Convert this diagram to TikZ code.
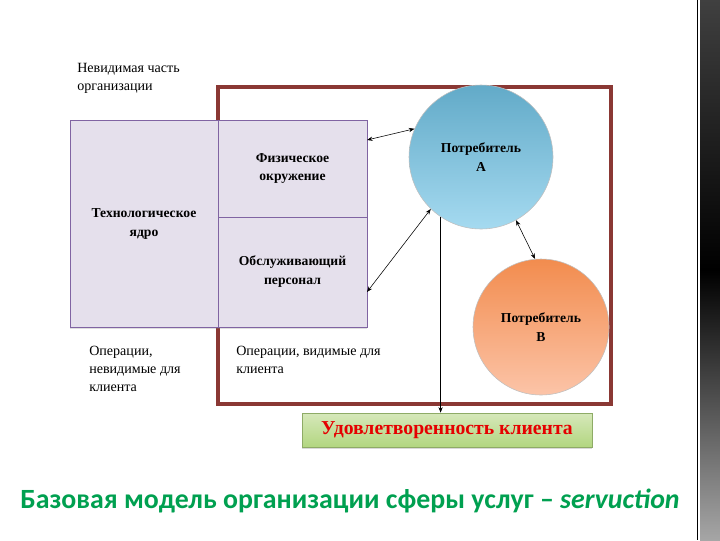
\documentclass[tikz,border=0pt]{standalone}
\usepackage{fontspec}
\setmainfont{Liberation Serif}
\newfontfamily\titlefont{Carlito}
\usepackage{tikz}
\usetikzlibrary{arrows.meta, positioning, calc, shadows}
\usepackage{xcolor}
\definecolor{framered}{RGB}{138,56,52}
\definecolor{boxlilac}{RGB}{229,224,236}
\definecolor{boxedge}{RGB}{128,100,162}
\definecolor{custblue}{RGB}{98,170,200}
\definecolor{custbluelight}{RGB}{165,218,240}
\definecolor{custorange}{RGB}{242,140,78}
\definecolor{custorangelight}{RGB}{252,196,168}
\definecolor{satgreen}{RGB}{178,214,128}
\definecolor{satgreenlight}{RGB}{214,232,186}
\definecolor{titlegreen}{RGB}{0,160,80}
\tikzstyle{part} = [rectangle, draw=boxedge, fill=boxlilac, inner sep=0pt, align=center, font=\fontsize{9.7}{13.5}\selectfont\bfseries]
\tikzstyle{customer} = [circle, draw=black!25, inner sep=0pt, align=center, font=\fontsize{9.7}{13.5}\selectfont\bfseries]
\tikzstyle{note} = [align=left, anchor=north west, inner sep=0pt, font=\fontsize{10}{12.8}\selectfont]
\tikzstyle{link} = [thin, {Stealth[length=4pt]}-{Stealth[length=4pt]}]

\begin{document}
\begin{tikzpicture}[x=0.025cm, y=-0.025cm]
\useasboundingbox (0,0) rectangle (720,540);

% Side stripe
\draw[black, line width=0.6pt] (697,0) -- (697,540);
\shade[top color=black!75, bottom color=black!35, middle color=black] (700,0) rectangle (720,540);

% Visible part frame
\draw[framered, line width=2.2pt] (218,87) rectangle (611,404);

% Organisation blocks
\node[part, minimum width=148*0.025cm, minimum height=207*0.025cm, drop shadow={opacity=0.25, shadow xshift=0pt, shadow yshift=-1.2pt}] (core) at (144,223.5) {Технологическое\\ядро};
\node[part, minimum width=149*0.025cm, minimum height=97*0.025cm] (env) at (292.5,168.5) {Физическое\\окружение};
\node[part, minimum width=149*0.025cm, minimum height=110*0.025cm, drop shadow={opacity=0.25, shadow xshift=0pt, shadow yshift=-1.2pt}] (staff) at (292.5,272) {Обслуживающий\\персонал};

% Customers
\node[customer, minimum size=144*0.025cm, top color=custblue, bottom color=custbluelight] (custA) at (481,157) {Потребитель\\А};
\node[customer, minimum size=136*0.025cm, top color=custorange, bottom color=custorangelight] (custB) at (541,327) {Потребитель\\В};

% Result
\node[rectangle, draw=satgreen!80!black, top color=satgreenlight, bottom color=satgreen, minimum width=290*0.025cm, minimum height=34*0.025cm, text=red!90!black, font=\fontsize{14}{15}\selectfont\bfseries, drop shadow={opacity=0.3, shadow xshift=0pt, shadow yshift=-1.2pt}] (sat) at (447,430) {Удовлетворенность клиента};

% Labels
\node[note] (hidden) at (77,63) {Невидимая часть\\организации};
\node[note] (opsHidden) at (89,346) {Операции,\\невидимые для\\клиента};
\node[note] (opsSeen) at (236,346) {Операции, видимые для\\клиента};

% Links
\coordinate (envPt) at (367,140);
\coordinate (staffPt) at (367,292);
\draw[link] (envPt) -- (custA.157);
\draw[link] (staffPt) -- (custA.226);
\draw[link] (custA.299) -- (custB.95);
\draw[thin, -{Stealth[length=4pt]}] (custA.236) -- (custA.236 |- sat.north);

% Title
\node[font=\titlefont\fontsize{19.8}{24}\selectfont\bfseries, text=titlegreen] (title) at (350,501) {Базовая модель организации сферы услуг – \textit{servuction}};

\end{tikzpicture}
\end{document}
